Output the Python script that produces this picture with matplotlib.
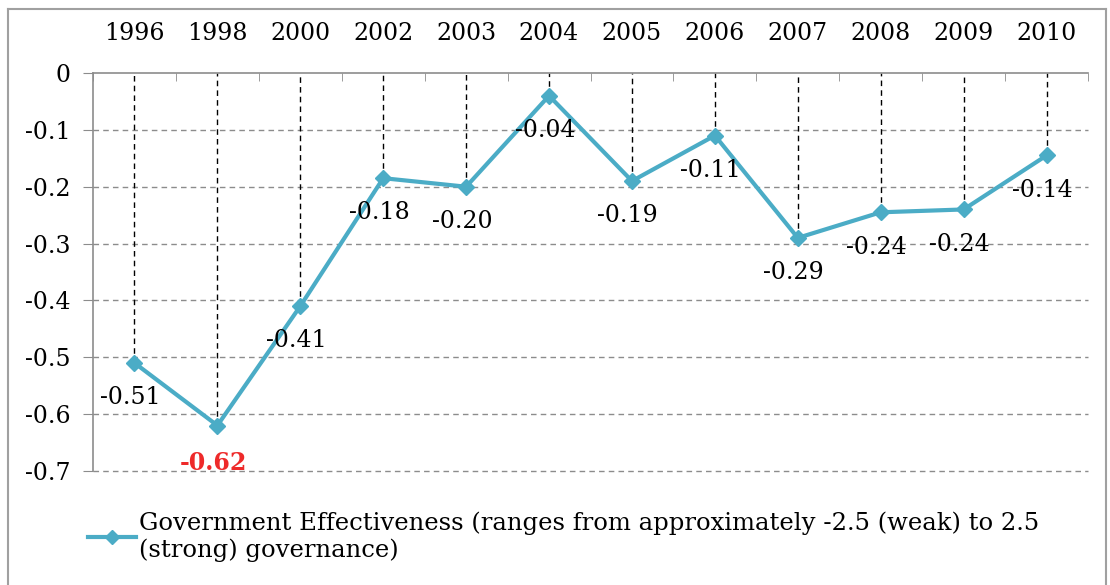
import matplotlib.pyplot as plt
from matplotlib.lines import Line2D
import numpy as np

years = ['1996', '1998', '2000', '2002', '2003', '2004', '2005', '2006', '2007', '2008', '2009', '2010']
values = [-0.51, -0.62, -0.41, -0.185, -0.20, -0.04, -0.19, -0.11, -0.29, -0.245, -0.24, -0.145]
labels = ['-0.51', '-0.62', '-0.41', '-0.18', '-0.20', '-0.04', '-0.19', '-0.11', '-0.29', '-0.24', '-0.24', '-0.14']
yticks = [0, -0.1, -0.2, -0.3, -0.4, -0.5, -0.6, -0.7]
legend_text = 'Government Effectiveness (ranges from approximately -2.5 (weak) to 2.5\n(strong) governance)'

plt.rcParams['font.family'] = ['DejaVu Serif']
line_color = '#4BACC6'
grid_color = '#8c8c8c'

fig = plt.figure(figsize=(11.1, 5.85), dpi=100)
ax = fig.add_axes([0.0838, 0.1949, 0.8964, 0.6803])

x = np.arange(len(years))

# dashed grid and drop lines
for y in yticks[1:]:
    ax.axhline(y, color=grid_color, lw=1, linestyle=(0, (4, 3)), zorder=1, clip_on=False)
ax.vlines(x, values, 0, colors='black', lw=1, linestyles=(0, (4, 3)), zorder=2)

ax.plot(x, values, color=line_color, lw=3, marker='D', markersize=8, zorder=3)

for xi, v, lab in zip(x, values, labels):
    if lab == '-0.62':
        ax.annotate(lab, (xi, v), xytext=(-3, -27), textcoords='offset points',
                    ha='center', va='center', fontsize=17, color='#ee2a2a', fontweight='bold')
    else:
        ax.annotate(lab, (xi, v), xytext=(-3, -25), textcoords='offset points',
                    ha='center', va='center', fontsize=17, color='black')

ax.set_xlim(-0.5, len(years) - 0.5)
ax.set_ylim(-0.7, 0)
ax.xaxis.tick_top()
ax.set_xticks(x)
ax.set_xticklabels(years, fontsize=17)
ax.set_xticks(np.arange(-0.5, len(years), 1), minor=True)
ax.tick_params(axis='x', which='major', length=0, pad=20)
ax.tick_params(axis='x', which='minor', direction='in', length=6, color=grid_color, top=True, bottom=False)
ax.set_yticks(yticks)
ax.set_yticklabels(['0', '-0.1', '-0.2', '-0.3', '-0.4', '-0.5', '-0.6', '-0.7'], fontsize=17)
ax.tick_params(axis='y', length=7, color=grid_color, pad=9)

for side in ['right', 'bottom']:
    ax.spines[side].set_visible(False)
for side in ['left', 'top']:
    ax.spines[side].set_color(grid_color)
    ax.spines[side].set_linewidth(1.2)

handle = Line2D([], [], color=line_color, lw=3, marker='D', markersize=7)
fig.legend([handle], [legend_text], loc='upper left', bbox_to_anchor=(0.079, 0.126),
           frameon=False, fontsize=17.5, handlelength=2.0, handletextpad=0.1,
           borderpad=0, borderaxespad=0, labelspacing=0)

# outer chart border
border = dict(color='#a0a0a0', lw=1.5, transform=fig.transFigure)
fig.add_artist(Line2D([0.0075, 0.0075], [0, 0.985], **border))
fig.add_artist(Line2D([0.0075, 0.996], [0.985, 0.985], **border))
fig.add_artist(Line2D([0.996, 0.996], [0, 0.985], **border))

fig.savefig('out.png', dpi=100)
